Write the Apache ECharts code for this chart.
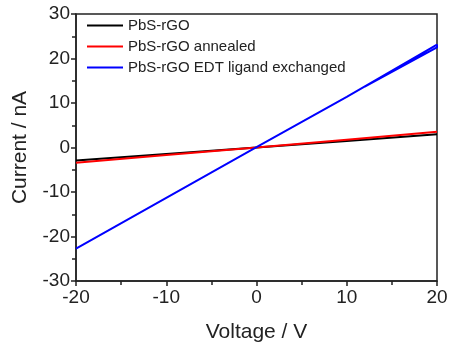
<!DOCTYPE html>
<html>
<head>
<meta charset="utf-8">
<script src="https://cdn.jsdelivr.net/npm/echarts@6/dist/echarts.min.js"></script>
<style>
  html, body { margin: 0; padding: 0; background: #fff; }
  #main { width: 451px; height: 349px; }
</style>
</head>
<body>
<div id="main"></div>
<script>
var voltage = [-20, -10, 0, 10, 20];
var pbsRgo = [-2.9, -1.45, 0, 1.48, 2.97];
var pbsRgoAnnealed = [-3.4, -1.7, 0, 1.75, 3.55];
// EDT sweep goes up to 20 V and partly back
var edtVoltage = [-20, -10, 0, 10, 20, 20, 12];
var edtCurrent = [-22.7, -11.3, 0.1, 11.4, 23.1, 22.5, 13.7];

function pairs(xs, ys) {
  return xs.map(function (x, i) { return [x, ys[i]]; });
}

var chartDom = document.getElementById('main');
var myChart = echarts.init(chartDom);
var font = 'Liberation Sans, Arial, sans-serif';

var option = {
  animation: false,
  textStyle: { fontFamily: font },
  grid: {
    left: 76, right: 14, top: 14, bottom: 68,
    show: true, borderColor: '#222', borderWidth: 1.5
  },
  legend: {
    orient: 'vertical',
    left: 81,
    top: 13,
    itemWidth: 36,
    itemHeight: 10,
    itemGap: 6,
    itemStyle: { opacity: 0 },
    textStyle: { fontFamily: font, fontSize: 15, color: '#222' },
    data: ['PbS-rGO', 'PbS-rGO annealed', 'PbS-rGO EDT ligand exchanged']
  },
  xAxis: {
    type: 'value',
    min: -20, max: 20, interval: 10,
    name: 'Voltage / V',
    nameLocation: 'middle',
    nameGap: 41,
    nameTextStyle: { fontSize: 21, color: '#222', fontFamily: font },
    axisLine: { onZero: false, lineStyle: { color: '#222', width: 1.5 } },
    axisTick: { length: 5, lineStyle: { color: '#222', width: 1.5 } },
    minorTick: { show: true, splitNumber: 2, length: 4, lineStyle: { color: '#222', width: 1.5 } },
    axisLabel: { fontSize: 19, color: '#222', margin: 7, fontFamily: font },
    splitLine: { show: false }
  },
  yAxis: {
    type: 'value',
    min: -30, max: 30, interval: 10,
    name: 'Current / nA',
    nameLocation: 'middle',
    nameGap: 45,
    nameTextStyle: { fontSize: 21, color: '#222', fontFamily: font },
    axisLine: { onZero: false, lineStyle: { color: '#222', width: 1.5 } },
    axisTick: { length: 5, lineStyle: { color: '#222', width: 1.5 } },
    minorTick: { show: true, splitNumber: 2, length: 4, lineStyle: { color: '#222', width: 1.5 } },
    axisLabel: { fontSize: 19, color: '#222', margin: 6, fontFamily: font },
    splitLine: { show: false }
  },
  series: [
    {
      name: 'PbS-rGO',
      type: 'line',
      symbol: 'none',
      color: '#000000',
      lineStyle: { width: 2 },
      data: pairs(voltage, pbsRgo)
    },
    {
      name: 'PbS-rGO annealed',
      type: 'line',
      symbol: 'none',
      color: '#ff0000',
      lineStyle: { width: 2 },
      data: pairs(voltage, pbsRgoAnnealed)
    },
    {
      name: 'PbS-rGO EDT ligand exchanged',
      type: 'line',
      symbol: 'none',
      color: '#0000ff',
      lineStyle: { width: 2 },
      data: pairs(edtVoltage, edtCurrent)
    }
  ]
};

option && myChart.setOption(option);
</script>
</body>
</html>
